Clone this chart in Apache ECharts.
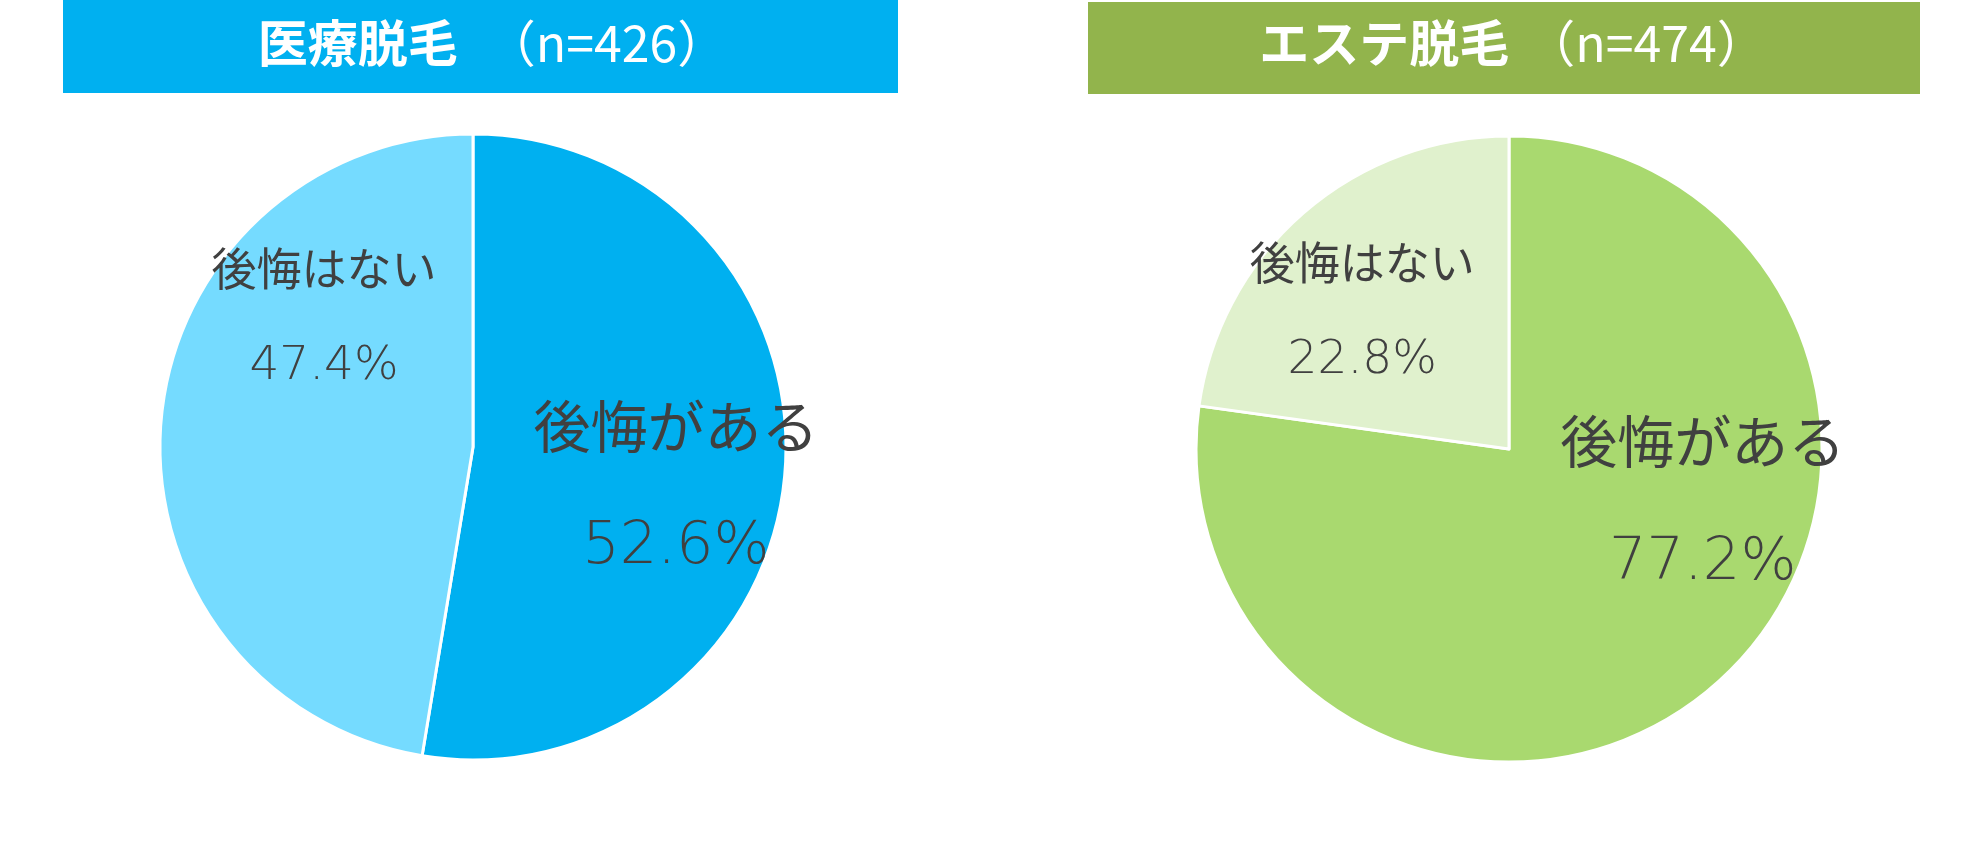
<!DOCTYPE html>
<html>
<head>
<meta charset="utf-8">
<script src="https://cdn.jsdelivr.net/npm/echarts@6/dist/echarts.min.js"></script>
<style>
  html, body { margin: 0; padding: 0; background: #fff; }
  #container { width: 1983px; height: 846px; }
</style>
</head>
<body>
<div id="container"></div>
<script>
const groups = ['医療脱毛', 'エステ脱毛'];
const sampleSizes = [426, 474];
const categories = ['後悔がある', '後悔はない'];
const medicalValues = [52.6, 47.4];
const esteValues = [77.2, 22.8];

const font = '"Noto Sans CJK JP", "Noto Sans", sans-serif';
const numFont = '"DejaVu Sans", "Noto Sans", sans-serif';
const textColor = '#404040';

// layout
const centers = [[473, 447], [1509, 449]];
const radius = 313;
const barRects = [[63, 0, 835, 93], [1088, 2, 832, 92]];
const barColors = ['#00b0f0', '#92b44c'];
const sliceColors = [['#00b0f0', '#75dbff'], ['#a9d96f', '#e0f1cd']];
const titleGaps = [28, 16];
const titleShift = [12, 9];
const labelShift = [
  [[44, 23], [10, -120]],
  [[89, -71], [-42, -21]]
];
const nameSizes = [57, 45];
const numSizes = [59, 47];

const chart = echarts.init(document.getElementById('container'));

const labelRich = {};
nameSizes.forEach((s, i) => {
  labelRich['n' + i] = { fontSize: s, lineHeight: s * 2 + 16, fontFamily: font, color: textColor };
  labelRich['v' + i] = { fontSize: numSizes[i], lineHeight: s * 2, fontFamily: numFont, fontWeight: 200, color: textColor };
});

function pie(idx, values) {
  return {
    type: 'pie',
    center: centers[idx],
    radius: radius,
    startAngle: 90,
    clockwise: true,
    silent: true,
    animation: false,
    itemStyle: {
      borderColor: '#fff',
      borderWidth: 3
    },
    label: {
      show: true,
      position: 'inside',
      formatter: p => '{n' + p.dataIndex + '|' + p.name + '}\n{v' + p.dataIndex + '|' + p.value.toFixed(1) + '%}',
      rich: labelRich
    },
    labelLine: { show: false },
    labelLayout: p => ({
      dx: labelShift[idx][p.dataIndex][0],
      dy: labelShift[idx][p.dataIndex][1]
    }),
    data: categories.map((c, i) => ({
      name: c,
      value: values[i],
      itemStyle: { color: sliceColors[idx][i] }
    }))
  };
}

const option = {
  backgroundColor: '#fff',
  graphic: barRects.map((r, i) => ({
    type: 'rect',
    shape: { x: r[0], y: r[1], width: r[2], height: r[3] },
    style: { fill: barColors[i] },
    silent: true,
    z: 0
  })),
  title: groups.map((g, i) => ({
    text: '{a|' + g + '}{b|（n=' + sampleSizes[i] + '）}',
    left: barRects[i][0] + barRects[i][2] / 2 + titleShift[i],
    top: 18,
    textAlign: 'center',
    padding: 0,
    textStyle: {
      rich: {
        a: { color: '#fff', fontSize: 50, fontWeight: 'bold', fontFamily: font },
        b: { color: '#fff', fontSize: 50, fontWeight: 'normal', fontFamily: font, padding: [0, 0, 0, titleGaps[i]] }
      }
    }
  })),
  series: [pie(0, medicalValues), pie(1, esteValues)]
};

chart.setOption(option);
</script>
</body>
</html>
